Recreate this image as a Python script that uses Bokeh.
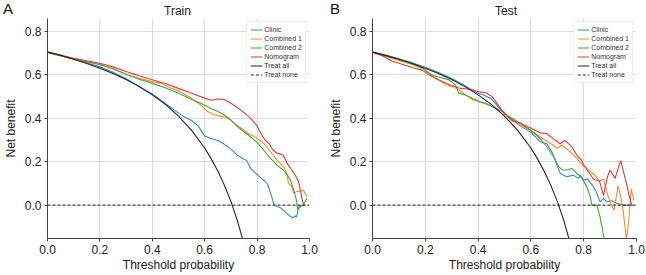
from bokeh.plotting import figure
from bokeh.layouts import row, column
from bokeh.models import Range1d, Legend, LegendItem, FixedTicker, PrintfTickFormatter, Div
from bokeh.embed import file_html
from bokeh.resources import INLINE

# ---------------- data ----------------
treat_all_t = [0.0, 0.05, 0.1, 0.15, 0.2, 0.25, 0.3, 0.35, 0.4, 0.45, 0.5, 0.55, 0.6,
               0.625, 0.65, 0.675, 0.7, 0.725, 0.75]
treat_all_nb = [0.705, 0.690, 0.672, 0.653, 0.631, 0.607, 0.579, 0.546, 0.508, 0.464, 0.410,
                0.344, 0.263, 0.213, 0.157, 0.092, 0.017, -0.073, -0.180]
treat_none_t = [0.0, 1.0]
treat_none_nb = [0.0, 0.0]

# Train
train_clinic_t = [0.0, 0.05, 0.1, 0.15, 0.2, 0.25, 0.3, 0.35, 0.4, 0.45, 0.5, 0.525, 0.55, 0.575,
                  0.6, 0.625, 0.65, 0.675, 0.7, 0.725, 0.745, 0.76, 0.775, 0.79, 0.81, 0.83, 0.84,
                  0.85, 0.858, 0.865, 0.875, 0.89, 0.91, 0.925, 0.935, 0.945, 0.95, 0.955, 0.96, 0.97]
train_clinic_nb = [0.705, 0.690, 0.674, 0.656, 0.637, 0.612, 0.582, 0.547, 0.512, 0.468, 0.424, 0.405,
                   0.390, 0.365, 0.318, 0.307, 0.298, 0.280, 0.258, 0.230, 0.215, 0.205, 0.170, 0.152,
                   0.130, 0.110, 0.095, 0.060, 0.030, 0.000, -0.005, -0.013, -0.035, -0.050, -0.058,
                   -0.050, -0.055, -0.030, -0.005, 0.000]
train_comb1_t = [0.0, 0.05, 0.1, 0.15, 0.2, 0.25, 0.3, 0.35, 0.4, 0.435, 0.47, 0.5, 0.525, 0.55,
                 0.585, 0.61, 0.635, 0.66, 0.68, 0.7, 0.72, 0.74, 0.765, 0.785, 0.8, 0.825, 0.845,
                 0.865, 0.875, 0.89, 0.905, 0.912, 0.92, 0.933, 0.94, 0.952, 0.965, 0.977, 0.99]
train_comb1_nb = [0.705, 0.689, 0.674, 0.661, 0.648, 0.628, 0.603, 0.584, 0.569, 0.561, 0.540, 0.527,
                  0.510, 0.492, 0.461, 0.432, 0.416, 0.410, 0.405, 0.392, 0.370, 0.354, 0.331, 0.318,
                  0.308, 0.285, 0.254, 0.225, 0.208, 0.190, 0.170, 0.150, 0.100, 0.085, 0.054, 0.062,
                  0.065, 0.069, 0.038]
train_comb2_t = [0.0, 0.05, 0.1, 0.15, 0.2, 0.25, 0.3, 0.35, 0.4, 0.45, 0.5, 0.525, 0.55, 0.585,
                 0.6, 0.625, 0.65, 0.675, 0.7, 0.725, 0.75, 0.775, 0.8, 0.825, 0.845, 0.86, 0.875,
                 0.9, 0.915, 0.927, 0.94, 0.95, 0.955, 0.96, 0.965, 0.977, 0.99]
train_comb2_nb = [0.705, 0.689, 0.674, 0.661, 0.648, 0.628, 0.603, 0.580, 0.561, 0.541, 0.515, 0.502,
                  0.487, 0.469, 0.460, 0.444, 0.432, 0.415, 0.392, 0.362, 0.338, 0.315, 0.288, 0.254,
                  0.223, 0.205, 0.185, 0.161, 0.140, 0.115, 0.070, 0.023, -0.020, -0.015, -0.008,
                  0.000, 0.031]
train_nomo_t = [0.0, 0.05, 0.1, 0.15, 0.2, 0.25, 0.3, 0.325, 0.35, 0.4, 0.435, 0.45, 0.5, 0.55,
                0.6, 0.625, 0.65, 0.675, 0.7, 0.725, 0.75, 0.775, 0.8, 0.815, 0.83, 0.845, 0.86,
                0.875, 0.89, 0.9, 0.915, 0.93, 0.945, 0.958, 0.965, 0.972, 0.98]
train_nomo_nb = [0.705, 0.691, 0.677, 0.665, 0.654, 0.637, 0.616, 0.606, 0.596, 0.578, 0.565, 0.560,
                 0.538, 0.515, 0.493, 0.483, 0.489, 0.487, 0.469, 0.450, 0.426, 0.400, 0.365, 0.330,
                 0.300, 0.285, 0.255, 0.240, 0.235, 0.230, 0.192, 0.165, 0.140, 0.108, 0.070, 0.025,
                 -0.005]

# Test
test_clinic_t = [0.0, 0.05, 0.1, 0.15, 0.2, 0.25, 0.3, 0.35, 0.4, 0.425, 0.45, 0.475, 0.5, 0.525,
                 0.56, 0.6, 0.635, 0.66, 0.68, 0.7, 0.711, 0.736, 0.761, 0.78, 0.787, 0.8, 0.815,
                 0.837, 0.85, 0.862, 0.875, 0.888, 0.905, 0.926, 0.95, 0.985]
test_clinic_nb = [0.705, 0.690, 0.674, 0.656, 0.635, 0.611, 0.583, 0.550, 0.515, 0.505, 0.490, 0.455,
                  0.420, 0.398, 0.365, 0.335, 0.292, 0.283, 0.245, 0.180, 0.146, 0.131, 0.138, 0.123,
                  0.138, 0.115, 0.120, 0.085, 0.054, 0.015, 0.031, 0.015, 0.020, 0.008, 0.000, 0.000]
test_comb1_t = [0.0, 0.05, 0.1, 0.15, 0.2, 0.226, 0.251, 0.277, 0.302, 0.327, 0.35, 0.378, 0.403,
                0.428, 0.455, 0.479, 0.504, 0.522, 0.56, 0.6, 0.635, 0.673, 0.7, 0.717, 0.749, 0.774,
                0.8, 0.82, 0.84, 0.86, 0.875, 0.89, 0.905, 0.915, 0.93, 0.94, 0.95, 0.962, 0.97,
                0.98, 0.99]
test_comb1_nb = [0.705, 0.685, 0.667, 0.648, 0.624, 0.595, 0.577, 0.556, 0.546, 0.531, 0.510, 0.487,
                 0.477, 0.466, 0.455, 0.440, 0.422, 0.392, 0.369, 0.345, 0.315, 0.285, 0.262, 0.277,
                 0.246, 0.215, 0.180, 0.160, 0.140, 0.110, 0.120, 0.050, 0.000, -0.025, 0.090, 0.040,
                 -0.030, -0.160, -0.080, 0.075, 0.020]
test_comb2_t = [0.0, 0.05, 0.1, 0.15, 0.19, 0.207, 0.226, 0.25, 0.29, 0.314, 0.327, 0.352, 0.378,
                0.403, 0.428, 0.466, 0.491, 0.517, 0.56, 0.597, 0.635, 0.66, 0.686, 0.705, 0.72,
                0.736, 0.755, 0.774, 0.793, 0.812, 0.825, 0.831, 0.85, 0.862, 0.875, 0.885]
test_comb2_nb = [0.705, 0.689, 0.672, 0.652, 0.632, 0.612, 0.600, 0.590, 0.577, 0.554, 0.515, 0.508,
                 0.492, 0.477, 0.469, 0.446, 0.431, 0.408, 0.377, 0.346, 0.308, 0.269, 0.223, 0.177,
                 0.162, 0.162, 0.169, 0.146, 0.123, 0.085, 0.038, 0.000, 0.000, -0.054, -0.140, -0.190]
test_nomo_t = [0.0, 0.037, 0.075, 0.112, 0.15, 0.188, 0.214, 0.25, 0.29, 0.327, 0.365, 0.403, 0.43,
               0.453, 0.479, 0.504, 0.53, 0.56, 0.597, 0.635, 0.66, 0.686, 0.711, 0.729, 0.755,
               0.775, 0.79, 0.8, 0.82, 0.837, 0.86, 0.875, 0.89, 0.9, 0.919, 0.94, 0.962, 0.97, 0.982]
test_nomo_nb = [0.705, 0.688, 0.663, 0.649, 0.634, 0.622, 0.600, 0.578, 0.556, 0.540, 0.534, 0.522,
                0.518, 0.500, 0.456, 0.418, 0.390, 0.377, 0.356, 0.333, 0.330, 0.305, 0.283, 0.298,
                0.268, 0.228, 0.210, 0.185, 0.150, 0.120, 0.110, 0.045, 0.130, 0.162, 0.123, 0.205,
                0.100, 0.054, 0.000]

x_ticks = [0.0, 0.2, 0.4, 0.6, 0.8, 1.0]
y_ticks = [0.0, 0.2, 0.4, 0.6, 0.8]
names = ["Clinic", "Combined 1", "Combined 2", "Nomogram", "Treat all", "Treat none"]
colors = ["#3a85cc", "#ff8a2a", "#3aab3a", "#e23a3a", "#222222", "#222222"]

FONT = "Liberation Sans"
HEAD_H = 18


def header(letter, letter_left, title, title_center):
    html = (
        '<div style="position:relative;width:323px;height:18px;margin:0;padding:0;'
        f'font-family:\'{FONT}\';color:#222222;">'
        f'<span style="position:absolute;left:{letter_left}px;top:1px;font-size:15px;'
        f'line-height:15px;color:#111111;">{letter}</span>'
        f'<span style="position:absolute;left:{title_center - 60}px;width:120px;text-align:center;'
        f'top:5px;font-size:12px;line-height:12px;">{title}</span></div>'
    )
    return Div(text=html, width=323, height=HEAD_H, margin=0)


def make_panel(series, left, right):
    p = figure(width=323, height=275 - HEAD_H, x_range=Range1d(0, 1), y_range=Range1d(-0.154, 0.86),
               output_backend="svg", toolbar_location=None,
               min_border_left=left, min_border_right=right,
               min_border_top=0, min_border_bottom=37)
    p.outline_line_color = None
    p.background_fill_color = "white"
    for ax in (p.xaxis, p.yaxis):
        ax.axis_line_color = "#444444"
        ax.major_tick_line_color = "#444444"
        ax.major_tick_out = 3
        ax.major_tick_in = 0
        ax.minor_tick_line_color = None
        ax.major_label_text_font = FONT
        ax.major_label_text_font_size = "12px"
        ax.major_label_text_color = "#222222"
        ax.major_label_standoff = 3
        ax.formatter = PrintfTickFormatter(format="%.1f")
        ax.axis_label_text_font = FONT
        ax.axis_label_text_font_size = "12px"
        ax.axis_label_text_font_style = "normal"
        ax.axis_label_text_color = "#222222"
    p.xaxis.axis_label = "Threshold probability"
    p.xaxis.axis_label_standoff = 1
    p.yaxis.axis_label = "Net benefit"
    p.yaxis.axis_label_standoff = 4
    p.xaxis.ticker = FixedTicker(ticks=x_ticks)
    p.yaxis.ticker = FixedTicker(ticks=y_ticks)
    p.xgrid.ticker = FixedTicker(ticks=x_ticks)
    p.ygrid.ticker = FixedTicker(ticks=y_ticks)
    p.grid.grid_line_color = "#dcdcdc"
    p.grid.grid_line_width = 1.2

    items = []
    for (t, nb), name, col in zip(series, names, colors):
        if name == "Treat none":
            r = p.line(t, nb, line_color=col, line_width=1, line_dash="3 2")
        else:
            r = p.line(t, nb, line_color=col, line_width=1.1)
        items.append(LegendItem(label=name, renderers=[r]))

    leg = Legend(items=items, location="top_right")
    leg.label_text_font = FONT
    leg.label_text_font_size = "7px"
    leg.label_text_color = "#333333"
    leg.label_height = 9
    leg.glyph_height = 9
    leg.glyph_width = 12
    leg.label_standoff = 2
    leg.spacing = 0
    leg.padding = 3
    leg.margin = 3
    leg.border_line_color = "#dddddd"
    leg.border_line_width = 1
    leg.background_fill_alpha = 0.9
    p.add_layout(leg, "center")
    return p


train = [(train_clinic_t, train_clinic_nb), (train_comb1_t, train_comb1_nb),
         (train_comb2_t, train_comb2_nb), (train_nomo_t, train_nomo_nb),
         (treat_all_t, treat_all_nb), (treat_none_t, treat_none_nb)]
test = [(test_clinic_t, test_clinic_nb), (test_comb1_t, test_comb1_nb),
        (test_comb2_t, test_comb2_nb), (test_nomo_t, test_nomo_nb),
        (treat_all_t, treat_all_nb), (treat_none_t, treat_none_nb)]

p1 = make_panel(train, 45, 14)
p2 = make_panel(test, 49, 10)
h1 = header("A", 3, "Train", 177.5)
h2 = header("B", 7, "Test", 183)

layout = row(column(h1, p1, spacing=0), column(h2, p2, spacing=0), spacing=0)
open("out.html", "w").write(file_html(layout, INLINE))
